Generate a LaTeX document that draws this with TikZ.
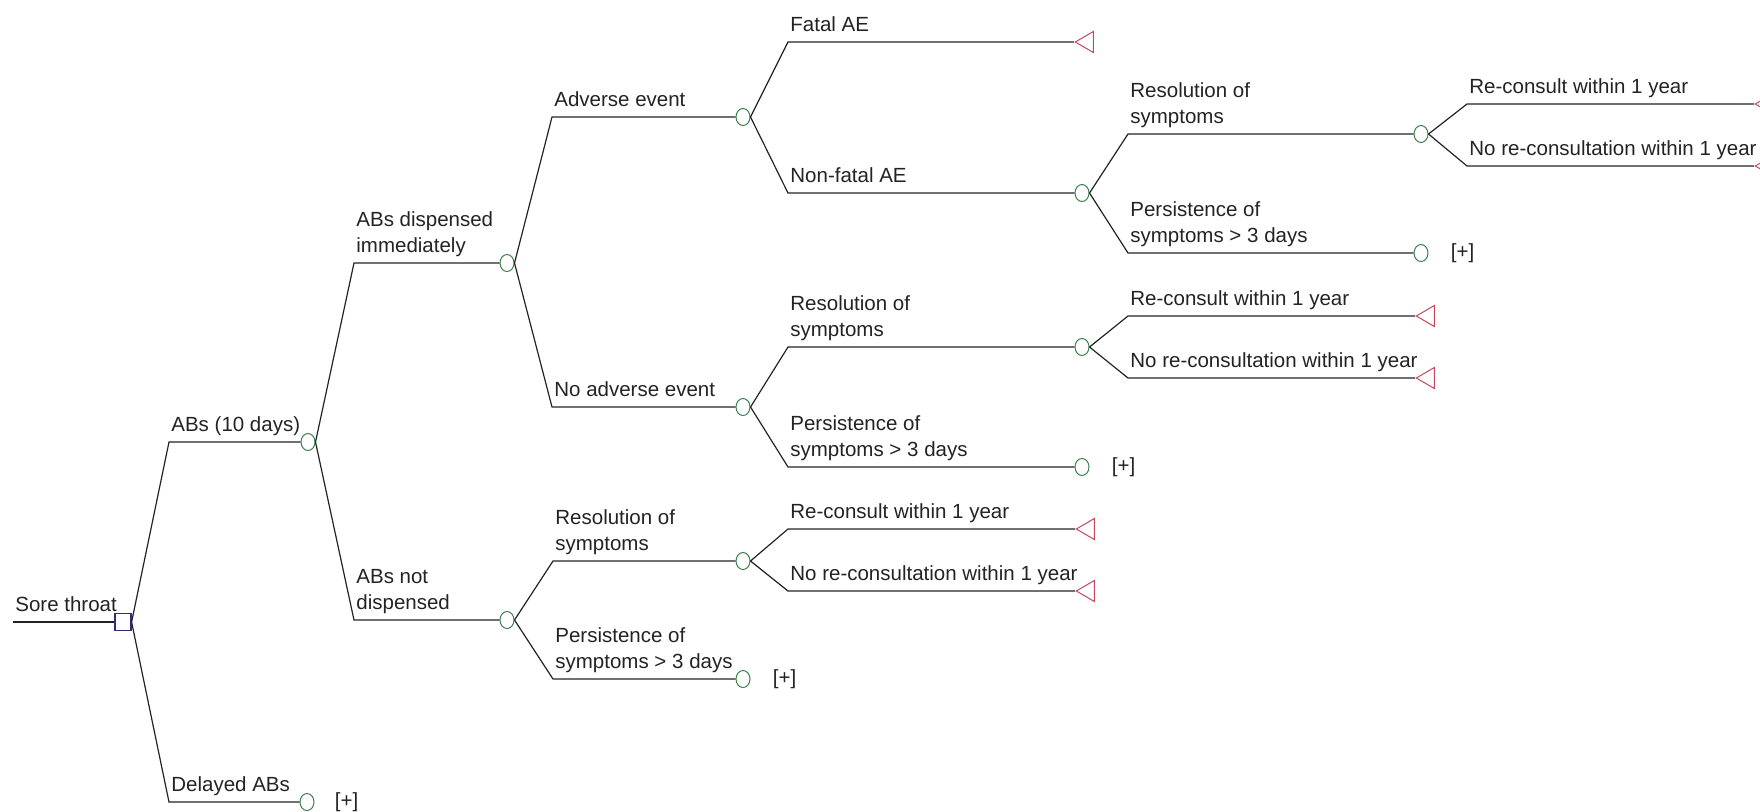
\documentclass[tikz,border=0pt]{standalone}
\usepackage{fontspec}
\setmainfont{Liberation Sans}
\usetikzlibrary{shapes.geometric}
\definecolor{chgreen}{RGB}{60,130,75}
\definecolor{termred}{RGB}{200,70,90}
\definecolor{decblue}{RGB}{45,45,130}
\definecolor{linegray}{RGB}{35,35,35}

\begin{document}
\begin{tikzpicture}[x=0.5pt, y=-0.5pt,
    branch/.style={draw=linegray, line width=0.6pt},
    chance/.style={ellipse, draw=chgreen, line width=0.5pt, inner sep=0pt, minimum width=7pt, minimum height=8.5pt},
    decision/.style={rectangle, draw=decblue, line width=0.6pt, inner sep=0pt, minimum width=8pt, minimum height=8.5pt},
    term/.style={isosceles triangle, isosceles triangle stretches, shape border rotate=180, draw=termred, line width=0.5pt, inner sep=0pt, minimum width=10.5pt, minimum height=9pt, anchor=apex},
    lbl/.style={anchor=south west, inner sep=0pt, text depth=0pt, align=left, text=linegray, font=\fontsize{10.25}{13}\selectfont},
    more/.style={anchor=west, inner sep=0pt, text=linegray, font=\fontsize{10.25}{13}\selectfont}]
    \useasboundingbox (0,0) rectangle (1760,811);
    \clip (0,0) rectangle (1760,811);

    % root
    \node[decision] (root) at (123,622) {};
    \coordinate (st-b) at (13,622);
    \draw[branch] (st-b) -- (root.west);
    \node[lbl] (st-l) at ([shift={(2,-10)}]st-b) {Sore throat};

    % ABs (10 days) / delayed
    \node[chance] (abs) at (308,442) {};
    \coordinate (abs-b) at (169,442);
    \draw[branch] (root.east) -- (abs-b) -- (abs.west);
    \node[lbl] (abs-l) at ([shift={(2,-10)}]abs-b) {ABs (10 days)};

    \node[chance] (del) at (307,802) {};
    \coordinate (del-b) at (169,802);
    \draw[branch] (root.east) -- (del-b) -- (del.west);
    \node[lbl] (del-l) at ([shift={(2,-10)}]del-b) {Delayed ABs};
    \node[more] (del-p) at ([xshift=10pt]del.east) {[+]};

    % dispensed or not
    \node[chance] (disp) at (507,263) {};
    \coordinate (disp-b) at (354,263);
    \draw[branch] (abs.east) -- (disp-b) -- (disp.west);
    \node[lbl] (disp-l) at ([shift={(2,-10)}]disp-b) {ABs dispensed\\immediately};

    \node[chance] (nd) at (507,620) {};
    \coordinate (nd-b) at (354,620);
    \draw[branch] (abs.east) -- (nd-b) -- (nd.west);
    \node[lbl] (nd-l) at ([shift={(2,-10)}]nd-b) {ABs not\\dispensed};

    % adverse events
    \node[chance] (ae) at (743,117) {};
    \coordinate (ae-b) at (552,117);
    \draw[branch] (disp.east) -- (ae-b) -- (ae.west);
    \node[lbl] (ae-l) at ([shift={(2,-10)}]ae-b) {Adverse event};

    \node[chance] (nae) at (743,407) {};
    \coordinate (nae-b) at (552,407);
    \draw[branch] (disp.east) -- (nae-b) -- (nae.west);
    \node[lbl] (nae-l) at ([shift={(2,-10)}]nae-b) {No adverse event};

    \node[term] (fatal) at (1074,42) {};
    \coordinate (fatal-b) at (788,42);
    \draw[branch] (ae.east) -- (fatal-b) -- (fatal.apex);
    \node[lbl] (fatal-l) at ([shift={(2,-10)}]fatal-b) {Fatal AE};

    \node[chance] (nfae) at (1082,193) {};
    \coordinate (nfae-b) at (788,193);
    \draw[branch] (ae.east) -- (nfae-b) -- (nfae.west);
    \node[lbl] (nfae-l) at ([shift={(2,-10)}]nfae-b) {Non-fatal AE};

    % resolution / persistence
    \foreach \n/\bx/\cx/\ya/\yb in {nd/553/743/561/679, nae/788/1082/347/467, nfae/1128/1421/134/253}{
        \node[chance] (\n-res) at (\cx,\ya) {};
        \coordinate (\n-res-b) at (\bx,\ya);
        \draw[branch] (\n.east) -- (\n-res-b) -- (\n-res.west);
        \node[lbl] (\n-res-l) at ([shift={(2,-10)}]\n-res-b) {Resolution of\\symptoms};
        \node[chance] (\n-pers) at (\cx,\yb) {};
        \coordinate (\n-pers-b) at (\bx,\yb);
        \draw[branch] (\n.east) -- (\n-pers-b) -- (\n-pers.west);
        \node[lbl] (\n-pers-l) at ([shift={(2,-10)}]\n-pers-b) {Persistence of\\symptoms > 3 days};
        \node[more] (\n-pers-p) at ([xshift=11pt]\n-pers.east) {[+]};
    }

    % re-consultation
    \foreach \n/\bx/\ya/\yb in {nd/788/529/591, nae/1128/316/378, nfae/1467/104/166}{
        \node[term] (\n-rc) at (\bx+287,\ya) {};
        \coordinate (\n-rc-b) at (\bx,\ya);
        \draw[branch] (\n-res.east) -- (\n-rc-b) -- (\n-rc.apex);
        \node[lbl] (\n-rc-l) at ([shift={(2,-10)}]\n-rc-b) {Re-consult within 1 year};
        \node[term] (\n-norc) at (\bx+287,\yb) {};
        \coordinate (\n-norc-b) at (\bx,\yb);
        \draw[branch] (\n-res.east) -- (\n-norc-b) -- (\n-norc.apex);
        \node[lbl] (\n-norc-l) at ([shift={(2,-10)}]\n-norc-b) {No re-consultation within 1 year};
    }
\end{tikzpicture}
\end{document}
